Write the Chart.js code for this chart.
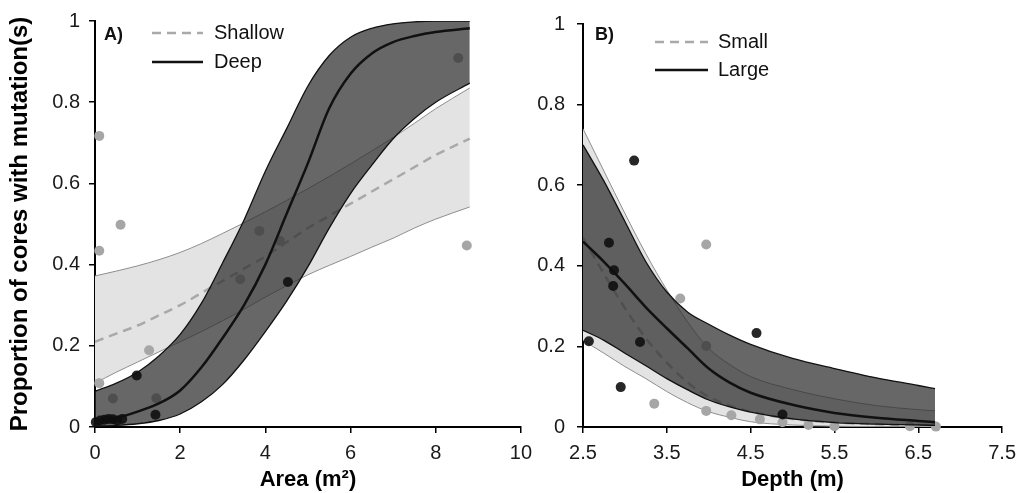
<!DOCTYPE html>
<html>
<head>
<meta charset="utf-8">
<script src="https://cdn.jsdelivr.net/npm/chart.js@4.4.1/dist/chart.umd.min.js"></script>
<style>
  body { margin: 0; background: #fff; width: 1024px; height: 493px; overflow: hidden; position: relative; }
  #boxA { position: absolute; left: 0; top: 0; width: 540px; height: 493px; }
  #boxB { position: absolute; left: 530px; top: 0; width: 494px; height: 493px; }
</style>
</head>
<body>
<div id="boxA"><canvas id="chartA"></canvas></div>
<div id="boxB"><canvas id="chartB"></canvas></div>
<script>
// ---- panel A : area ----
const areaX      = [0, 0.5, 1, 1.5, 2, 2.5, 3, 3.5, 4, 4.5, 5, 5.5, 6, 6.5, 7, 7.5, 8, 8.8];
const shallowFit = [0.21, 0.23, 0.25, 0.275, 0.30, 0.33, 0.36, 0.39, 0.42, 0.455, 0.49, 0.52, 0.55, 0.58, 0.61, 0.64, 0.67, 0.71];
const shallowUp  = [0.372, 0.384, 0.397, 0.412, 0.43, 0.452, 0.477, 0.503, 0.53, 0.558, 0.587, 0.617, 0.648, 0.68, 0.713, 0.748, 0.784, 0.835];
const shallowLow = [0.108, 0.135, 0.16, 0.185, 0.21, 0.235, 0.262, 0.29, 0.32, 0.348, 0.375, 0.398, 0.42, 0.443, 0.465, 0.49, 0.512, 0.542];
const deepFit    = [0.012, 0.022, 0.038, 0.058, 0.09, 0.147, 0.22, 0.30, 0.40, 0.525, 0.65, 0.785, 0.87, 0.92, 0.948, 0.963, 0.973, 0.982];
const deepUp     = [0.088, 0.108, 0.135, 0.175, 0.228, 0.305, 0.405, 0.51, 0.63, 0.735, 0.84, 0.915, 0.96, 0.982, 0.993, 0.998, 1.0, 1.0];
const deepLow    = [0.002, 0.004, 0.008, 0.016, 0.032, 0.062, 0.105, 0.165, 0.235, 0.31, 0.395, 0.49, 0.575, 0.645, 0.71, 0.76, 0.80, 0.847];

const shallowPtsX = [0.1, 0.6, 0.1, 0.1, 0.42, 1.27, 1.44, 3.41, 3.86, 4.34, 8.53, 8.73];
const shallowPtsY = [0.717, 0.498, 0.434, 0.108, 0.07, 0.189, 0.071, 0.364, 0.483, 0.459, 0.909, 0.447];
const deepPtsX    = [0.02, 0.12, 0.22, 0.32, 0.42, 0.52, 0.64, 0.98, 1.42, 4.53];
const deepPtsY    = [0.012, 0.016, 0.018, 0.02, 0.019, 0.016, 0.02, 0.127, 0.03, 0.357];

const areaTicks = [0, 2, 4, 6, 8, 10];

// ---- panel B : depth ----
const depthX   = [2.5, 2.75, 3.0, 3.25, 3.5, 3.75, 4.0, 4.25, 4.5, 5.0, 5.5, 6.0, 6.5, 6.7];
const smallFit = [0.47, 0.38, 0.295, 0.22, 0.16, 0.11, 0.075, 0.053, 0.038, 0.02, 0.011, 0.007, 0.004, 0.003];
const smallUp  = [0.74, 0.635, 0.53, 0.43, 0.34, 0.26, 0.195, 0.155, 0.125, 0.093, 0.07, 0.053, 0.043, 0.04];
const smallLow = [0.215, 0.183, 0.15, 0.12, 0.088, 0.06, 0.038, 0.024, 0.013, 0.005, 0.002, 0.001, 0.0005, 0.0004];
const largeFit = [0.46, 0.41, 0.355, 0.297, 0.245, 0.195, 0.145, 0.11, 0.085, 0.055, 0.035, 0.023, 0.015, 0.012];
const largeUp  = [0.70, 0.61, 0.51, 0.41, 0.335, 0.285, 0.255, 0.228, 0.205, 0.17, 0.145, 0.122, 0.103, 0.095];
const largeLow = [0.24, 0.215, 0.183, 0.152, 0.12, 0.092, 0.067, 0.05, 0.037, 0.02, 0.011, 0.007, 0.005, 0.004];

const smallPtsX = [3.97, 3.66, 3.97, 3.35, 3.97, 4.27, 4.61, 4.88, 5.19, 5.5, 6.4, 6.71];
const smallPtsY = [0.453, 0.319, 0.201, 0.058, 0.04, 0.029, 0.019, 0.012, 0.005, 0.002, 0.002, 0.001];
const largePtsX = [2.57, 2.81, 2.87, 2.86, 3.11, 2.95, 3.18, 4.57, 4.88];
const largePtsY = [0.213, 0.457, 0.389, 0.35, 0.661, 0.099, 0.211, 0.233, 0.031];

const depthTicks = [2.5, 3.5, 4.5, 5.5, 6.5, 7.5];
const propTicks  = [0, 0.2, 0.4, 0.6, 0.8, 1];

const FONT = '"Liberation Sans", Arial, sans-serif';
const LIGHT_FILL = '#e3e3e3';
const DARK_FILL = 'rgba(45,45,45,0.72)';   // lets the grey curves show faintly underneath
const GREY_LINE = '#8e8e8e';
const GREY_DASH = '#a9a9a9';
const GREY_DOT = '#a6a6a6';
const BLACK = '#111';

function pts(xs, ys) {
  return xs.map((x, i) => ({ x: x, y: ys[i] }));
}

// band fill helpers are invisible lines; the visible lines are separate datasets
function fillLow(xs, ys, order) {
  return { label: '', data: pts(xs, ys), borderWidth: 0, borderColor: 'rgba(0,0,0,0)',
           pointRadius: 0, fill: false, order: order, cubicInterpolationMode: 'monotone' };
}
function fillUp(xs, ys, target, color, order) {
  return { label: '', data: pts(xs, ys), borderWidth: 0, borderColor: 'rgba(0,0,0,0)',
           backgroundColor: color, pointRadius: 0, fill: { target: target }, order: order,
           cubicInterpolationMode: 'monotone' };
}
function curve(label, xs, ys, color, width, order, dash) {
  return { label: label, data: pts(xs, ys), borderColor: color, borderWidth: width,
           borderDash: dash || [], pointRadius: 0, fill: false, order: order,
           cubicInterpolationMode: 'monotone' };
}
function dots(xs, ys, color, order) {
  return { label: '', data: pts(xs, ys), showLine: false, pointRadius: 5, pointHoverRadius: 5,
           pointBackgroundColor: color, pointBorderWidth: 0, order: order, clip: false };
}

// panel tag + small legend drawn inside the plot area
const panelLegend = {
  id: 'panelLegend',
  afterDraw(chart, args, opts) {
    const { ctx, chartArea } = chart;
    const L = chartArea.left;
    ctx.save();
    ctx.textBaseline = 'middle';
    ctx.fillStyle = BLACK;
    ctx.font = 'bold 18px ' + FONT;
    ctx.fillText(opts.tag, L + opts.tagX, opts.tagY);
    ctx.font = '20px ' + FONT;
    opts.items.forEach((idx, i) => {
      const ds = chart.data.datasets[idx];
      const y = opts.rows[i];
      ctx.beginPath();
      ctx.setLineDash(ds.borderDash);
      ctx.strokeStyle = ds.borderColor;
      ctx.lineWidth = ds.borderWidth;
      ctx.moveTo(L + opts.lineX0, y);
      ctx.lineTo(L + opts.lineX1, y);
      ctx.stroke();
      ctx.setLineDash([]);
      ctx.fillStyle = BLACK;
      ctx.fillText(ds.label, L + opts.textX, y);
    });
    ctx.restore();
  }
};

function axisX(min, max, ticks, title) {
  return {
    type: 'linear', min: min, max: max, z: 1,
    afterBuildTicks: s => { s.ticks = ticks.map(v => ({ value: v })); },
    afterFit: s => { s.height = 66; },
    grid: { display: true, drawOnChartArea: false, color: '#000', lineWidth: 1.5, tickLength: 6 },
    border: { display: true, color: '#000', width: 2 },
    ticks: { color: '#1a1a1a', font: { size: 20, family: FONT }, padding: 8, maxRotation: 0,
             callback: v => String(v) },
    title: { display: true, text: title, color: '#000', font: { size: 22, weight: 'bold', family: FONT },
             padding: { top: 0, bottom: 0 } }
  };
}
function axisY(width, pad, withTitle) {
  return {
    type: 'linear', min: 0, max: 1, z: 1,
    afterBuildTicks: s => { s.ticks = propTicks.map(v => ({ value: v })); },
    afterFit: s => { s.width = width; },
    grid: { display: true, drawOnChartArea: false, color: '#000', lineWidth: 1.5, tickLength: 6 },
    border: { display: true, color: '#000', width: 2 },
    ticks: { color: '#1a1a1a', font: { size: 20, family: FONT }, padding: pad, callback: v => String(v) },
    title: { display: withTitle, text: 'Proportion of cores with mutation(s)', color: '#000',
             font: { size: 24, weight: 'bold', family: FONT }, padding: { top: 6, bottom: 0 } }
  };
}

function baseOptions(scales, legendOpts) {
  return {
    responsive: true,
    maintainAspectRatio: false,
    animation: false,
    layout: { padding: { left: 0, right: 16, top: 19, bottom: 0 } },
    plugins: { legend: { display: false }, tooltip: { enabled: false }, panelLegend: legendOpts },
    scales: scales
  };
}

// draw order (high order first): light band, grey curves, grey dots, dark band, black curves, black dots
function panelData(xs, lightLow, lightUp, lightFit, darkLow, darkUp, darkFit, lightName, darkName,
                   gx, gy, bx, by) {
  return [
    fillLow(xs, lightLow, 40),                              // 0
    fillUp(xs, lightUp, 0, LIGHT_FILL, 39),                 // 1
    fillLow(xs, darkLow, 38),                               // 2
    fillUp(xs, darkUp, 2, DARK_FILL, 25),                   // 3
    curve('', xs, lightLow, GREY_LINE, 1, 32),              // 4
    curve('', xs, lightUp, GREY_LINE, 1, 31),               // 5
    curve(lightName, xs, lightFit, GREY_DASH, 2.5, 30, [9, 6]), // 6
    curve('', xs, darkLow, BLACK, 1.3, 20),                 // 7
    curve('', xs, darkUp, BLACK, 1.3, 19),                  // 8
    curve(darkName, xs, darkFit, BLACK, 2.5, 18),           // 9
    dots(gx, gy, GREY_DOT, 28),                             // 10
    dots(bx, by, 'rgba(15,15,15,0.9)', 1)                   // 11
  ];
}

new Chart(document.getElementById('chartA'), {
  type: 'line',
  data: {
    datasets: panelData(areaX, shallowLow, shallowUp, shallowFit, deepLow, deepUp, deepFit,
                        'Shallow', 'Deep', shallowPtsX, shallowPtsY, deepPtsX, deepPtsY)
  },
  options: baseOptions(
    { x: axisX(0, 10, areaTicks, 'Area (m²)'), y: axisY(95, 9, true) },
    { tag: 'A)', tagX: 9, tagY: 35, items: [6, 9], rows: [33, 62], lineX0: 57, lineX1: 108, textX: 119 }
  ),
  plugins: [panelLegend]
});

new Chart(document.getElementById('chartB'), {
  type: 'line',
  data: {
    datasets: panelData(depthX, smallLow, smallUp, smallFit, largeLow, largeUp, largeFit,
                        'Small', 'Large', smallPtsX, smallPtsY, largePtsX, largePtsY)
  },
  options: baseOptions(
    { x: axisX(2.5, 7.5, depthTicks, 'Depth (m)'), y: axisY(53, 12, false) },
    { tag: 'B)', tagX: 12, tagY: 35, items: [6, 9], rows: [42, 70], lineX0: 72, lineX1: 125, textX: 135 }
  ),
  plugins: [panelLegend]
});
</script>
</body>
</html>
